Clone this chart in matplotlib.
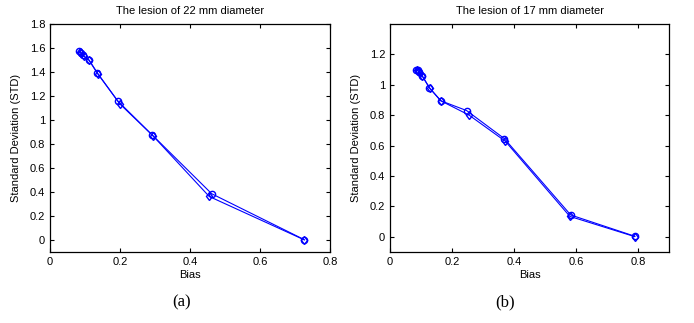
import matplotlib
matplotlib.use('Agg')
import matplotlib.pyplot as plt
from matplotlib.ticker import FuncFormatter

# lesion 22 mm
bias_22_a = [0.084, 0.088, 0.093, 0.111, 0.135, 0.193, 0.291, 0.462, 0.726]
std_22_a = [1.573, 1.560, 1.540, 1.500, 1.390, 1.160, 0.878, 0.385, 0.003]
bias_22_b = [0.086, 0.090, 0.096, 0.112, 0.137, 0.200, 0.294, 0.455, 0.727]
std_22_b = [1.568, 1.555, 1.532, 1.497, 1.385, 1.132, 0.868, 0.362, 0.000]

# lesion 17 mm
bias_17_a = [0.084, 0.089, 0.095, 0.103, 0.127, 0.163, 0.247, 0.369, 0.583, 0.790]
std_17_a = [1.100, 1.095, 1.085, 1.060, 0.980, 0.895, 0.830, 0.645, 0.143, 0.003]
bias_17_b = [0.086, 0.091, 0.098, 0.104, 0.128, 0.165, 0.255, 0.372, 0.580, 0.789]
std_17_b = [1.098, 1.090, 1.080, 1.058, 0.977, 0.893, 0.800, 0.628, 0.134, 0.001]

plt.rcParams['font.family'] = ['Liberation Sans', 'DejaVu Sans']
fmt = FuncFormatter(lambda v, p: ('%g' % round(v, 2)))

fig = plt.figure(figsize=(6.94, 3.23), dpi=100)
ax1 = fig.add_axes([0.072, 0.220, 0.4035, 0.706])
ax2 = fig.add_axes([0.562, 0.220, 0.402, 0.706])

panels = [
    (ax1, bias_22_a, std_22_a, bias_22_b, std_22_b, 'The lesion of 22 mm diameter',
     (0, 0.8), (-0.1, 1.8), [0, 0.2, 0.4, 0.6, 0.8, 1.0, 1.2, 1.4, 1.6, 1.8]),
    (ax2, bias_17_a, std_17_a, bias_17_b, std_17_b, 'The lesion of 17 mm diameter',
     (0, 0.9), (-0.1, 1.4), [0, 0.2, 0.4, 0.6, 0.8, 1.0, 1.2]),
]

for ax, xa, ya, xb, yb, title, xl, yl, yt in panels:
    ax.plot(xa, ya, color='#0000ff', marker='o', markersize=4.5, markerfacecolor='none', linewidth=0.8)
    ax.plot(xb, yb, color='#0000ff', marker='d', markersize=4.5, markerfacecolor='none', linewidth=0.8)
    ax.set_xlim(*xl)
    ax.set_ylim(*yl)
    ax.set_xticks([0, 0.2, 0.4, 0.6, 0.8])
    ax.set_yticks(yt)
    ax.xaxis.set_major_formatter(fmt)
    ax.yaxis.set_major_formatter(fmt)
    ax.tick_params(direction='in', top=True, right=True, labelsize=8, length=3, width=0.8)
    for s in ax.spines.values():
        s.set_linewidth(0.9)
    ax.set_title(title, fontsize=8, pad=7)
    ax.set_xlabel('Bias', fontsize=8, labelpad=2)
    ax.set_ylabel('Standard Deviation (STD)', fontsize=8, labelpad=6)

fig.text(0.262, 0.05, '(a)', family='Liberation Serif', fontsize=12, ha='center')
fig.text(0.728, 0.05, '(b)', family='Liberation Serif', fontsize=12, ha='center')

fig.savefig('out.png', dpi=100)
